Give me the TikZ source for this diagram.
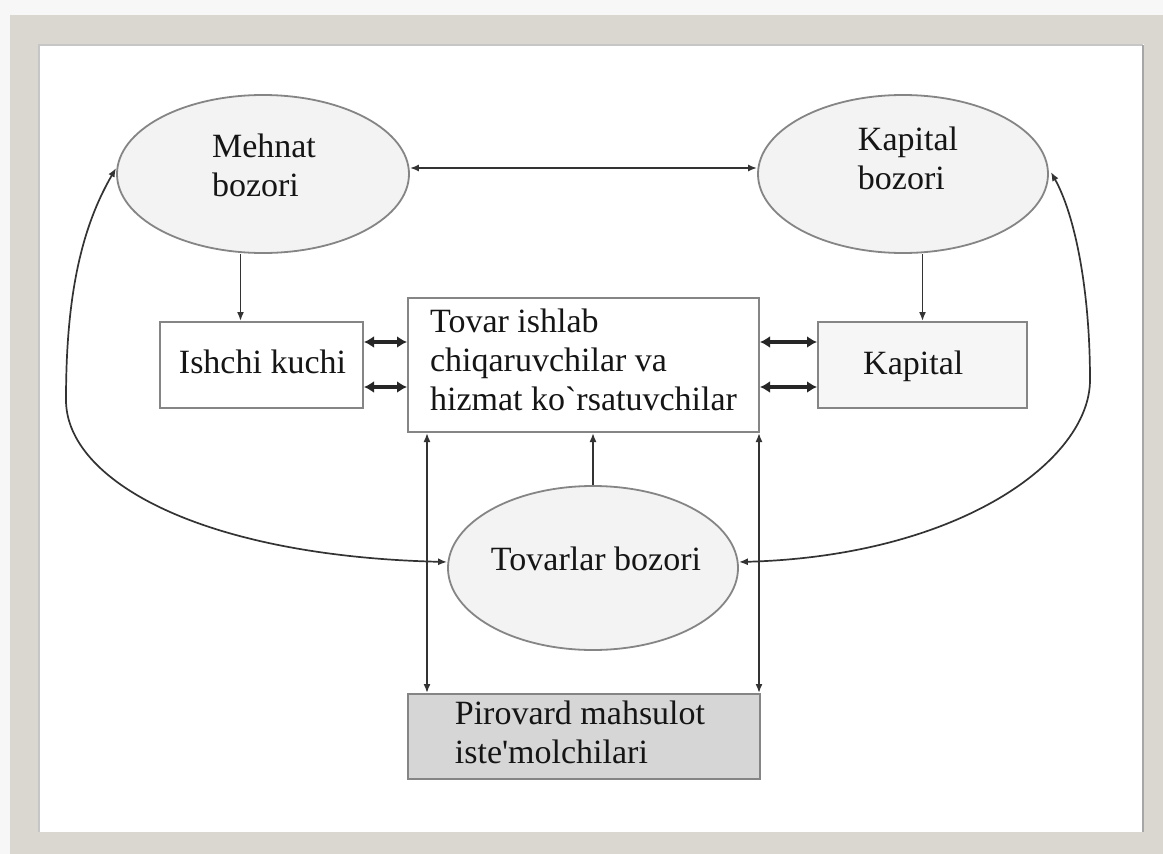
\documentclass[tikz,border=0pt]{standalone}
\usepackage{fontspec}
\setmainfont{Liberation Serif}[Ligatures=TeXOff]
\usetikzlibrary{arrows.meta,shapes.geometric}
\definecolor{framec}{HTML}{D9D7D0}
\definecolor{edgec}{HTML}{858585}
\definecolor{ellfill}{HTML}{F3F3F3}
\definecolor{pirfill}{HTML}{D6D6D6}
\definecolor{kapfill}{HTML}{F6F6F6}
\definecolor{linec}{HTML}{333333}
\definecolor{txtc}{HTML}{151515}
\begin{document}
\begin{tikzpicture}[x=1pt,y=-1pt,
 txt/.style={font=\fontsize{34}{39}\selectfont, text=txtc, inner sep=0pt},
 ell/.style={ellipse, draw=edgec, line width=1.8pt, fill=ellfill, inner sep=0pt},
 box/.style={rectangle, draw=edgec, line width=2pt, inner sep=0pt},
 arr/.style={draw=linec, line width=1.7pt, -{Latex[length=9pt,width=7pt]}},
 darr/.style={draw=linec, line width=1.7pt, {Latex[length=9pt,width=7pt]}-{Latex[length=9pt,width=7pt]}},
 thk/.style={draw=black!85, line width=3.5pt, {Latex[length=10pt,width=12pt]}-{Latex[length=10pt,width=12pt]}}]
\useasboundingbox (0,0) rectangle (1163,854);
\fill[white!94!gray] (0,0) rectangle (1163,854);
\fill[framec] (10,15) rectangle (1163,854);
\fill[white] (38,44) rectangle (1144,832);
\draw[gray!45, line width=2.5pt] (39,832) -- (39,45) -- (1143,45);
\draw[gray!70, line width=2pt] (1143,45) -- (1143,832);

% nodes
\node[ell, minimum width=292pt, minimum height=158pt] (mb) at (263,174) {};
\node[txt, align=left] (mbt) at (264,165) {Mehnat\\bozori};
\node[ell, minimum width=290pt, minimum height=158pt] (kb) at (903,174) {};
\node[txt, align=left] (kbt) at (908,158) {Kapital\\bozori};
\node[ell, minimum width=290pt, minimum height=164pt] (tb) at (593,568) {};
\node[txt, anchor=base] (tbt) at (596,570) {Tovarlar bozori};

\node[box, fill=white, minimum width=203pt, minimum height=86pt] (ish) at (261.5,365) {};
\node[txt, anchor=base] (isht) at (262.5,373) {Ishchi kuchi};
\node[box, fill=white, minimum width=351pt, minimum height=134pt] (cen) at (583.5,365) {};
\node[txt, align=left] (cent) at (583.5,360) {Tovar ishlab\\chiqaruvchilar va\\hizmat ko`rsatuvchilar};
\node[box, fill=kapfill, minimum width=209pt, minimum height=86pt] (kap) at (922.5,365) {};
\node[txt, anchor=base west] (kapt) at (863,374) {Kapital};
\node[box, fill=pirfill, minimum width=352pt, minimum height=85pt] (pir) at (584,736.5) {};
\node[txt, align=left] (pirt) at (580,732) {Pirovard mahsulot\\iste'molchilari};

% connectors
\draw[darr] ([yshift=6pt]mb.east) -- ([yshift=6pt]kb.west);
\draw[arr] ([xshift=-21pt]ish.north |- mb.south) -- ([xshift=-21pt]ish.north);
\draw[arr] (kap.north |- kb.south) -- (kap.north);
\draw[thk] ([yshift=23pt]ish.east) -- ([yshift=23pt]ish.east -| cen.west);
\draw[thk] ([yshift=-22pt]ish.east) -- ([yshift=-22pt]ish.east -| cen.west);
\draw[thk] ([yshift=23pt]kap.west -| cen.east) -- ([yshift=23pt]kap.west);
\draw[thk] ([yshift=-22pt]kap.west -| cen.east) -- ([yshift=-22pt]kap.west);
\draw[arr] (tb.north) -- (tb.north |- cen.south);
\draw[darr] ([xshift=20pt]cen.south west) -- ([xshift=20pt]cen.south west |- pir.north);
\draw[darr] ([xshift=-1pt]cen.south east) -- ([xshift=-1pt]cen.south east |- pir.north);
\draw[darr] ([yshift=6pt]tb.west) .. controls (200,556) and (66,480) .. (66,400) .. controls (66,300) and (80,230) .. ([yshift=6pt]mb.west);
\draw[darr] ([yshift=6pt]tb.east) .. controls (960,556) and (1090,460) .. (1090,380) .. controls (1090,290) and (1075,215) .. ([xshift=2pt,yshift=2pt]kb.east);
\end{tikzpicture}
\end{document}
